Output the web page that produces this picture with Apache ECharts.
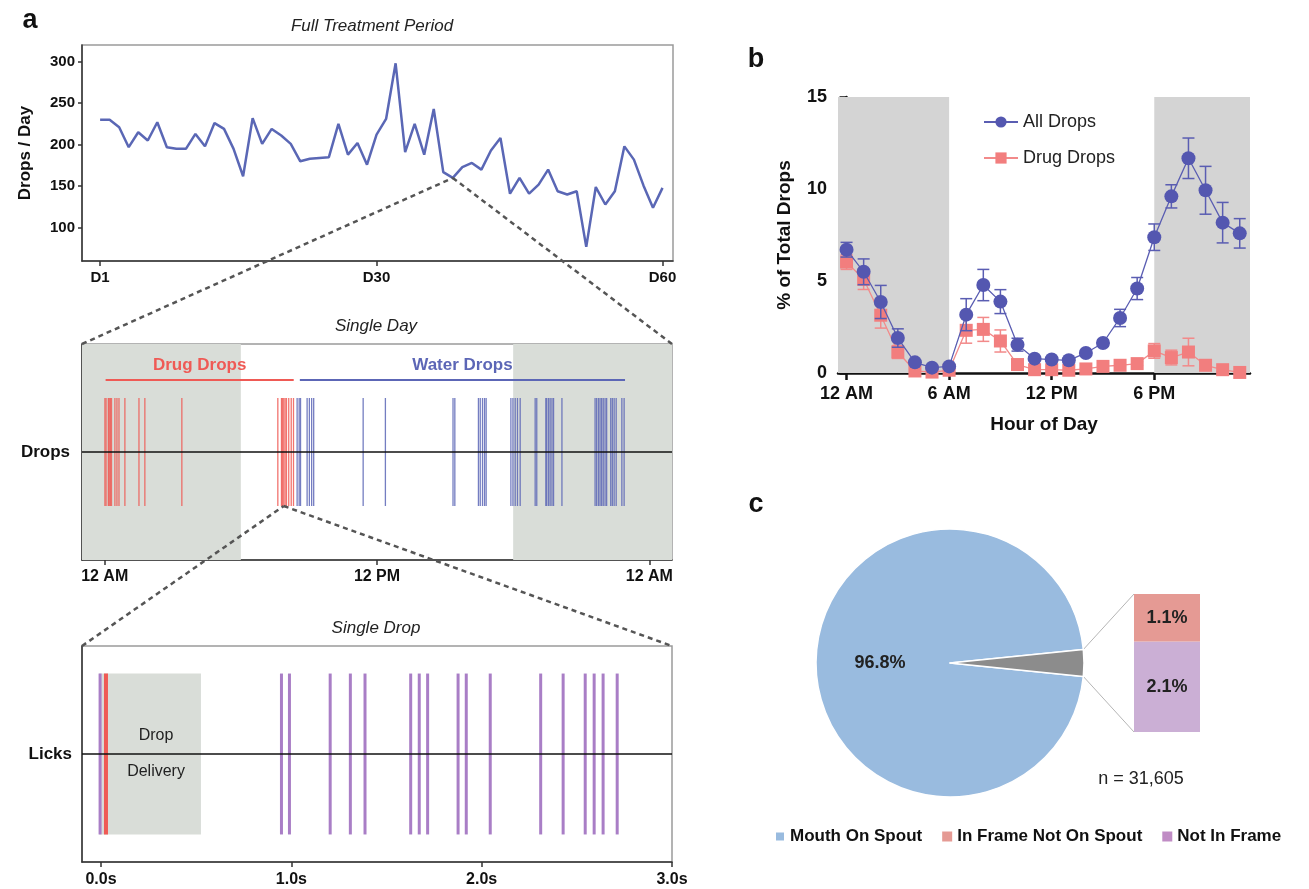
<!DOCTYPE html>
<html>
<head>
<meta charset="utf-8">
<title>Drops figure</title>
<script src="https://cdn.jsdelivr.net/npm/echarts@6.0.0/dist/echarts.min.js"></script>
<style>
  html, body { margin: 0; padding: 0; background: #fff; }
  #box { width: 1309px; height: 889px; }
</style>
</head>
<body>
<div id="box"></div>
<script>
// panel a, top: drops per day over 60 days
var dailyDrops = [230, 230, 221, 197, 215, 205, 227, 197, 195, 195,
                  213, 198, 226, 219, 195, 162, 232, 201, 219, 211,
                  201, 180, 183, 184, 185, 225, 188, 202, 176, 212,
                  231, 298, 191, 225, 188, 243, 167, 160, 173, 178,
                  170, 193, 208, 141, 160, 141, 152, 170, 144, 140,
                  144, 77, 149, 128, 144, 198, 182, 151, 124, 148]
var dayTicks = [1, 30, 60]

// panel a, middle: drop times in hours for a single day
var drugTimes = [0.01, 0.06, 0.16, 0.2, 0.25, 0.3, 0.45, 0.54, 0.63, 0.89, 1.51, 1.77, 3.40,
                 7.63, 7.79, 7.83, 7.89, 7.95, 8.01, 8.11, 8.22, 8.32]
var waterTimes = [8.48, 8.57, 8.63, 8.92, 9.02, 9.12, 9.21, 11.39, 12.37, 15.35, 15.43,
                  16.47, 16.55, 16.65, 16.74, 16.81, 17.9, 17.99, 18.09, 18.19, 18.31,
                  18.97, 19.04, 19.44, 19.48, 19.56, 19.63, 19.71, 19.78, 20.15,
                  21.61, 21.68, 21.76, 21.83, 21.90, 21.97, 22.05, 22.12,
                  22.3, 22.37, 22.45, 22.54, 22.79, 22.89]
var dayHourTicks = [0, 12, 24]
var dayHourLabels = ['12 AM', '12 PM', '12 AM']

// panel a, bottom: licks around one drop (seconds)
var lickTimes = [-0.005, 0.948, 0.99, 1.204, 1.31, 1.387, 1.627, 1.672, 1.716, 1.876,
                 1.919, 2.045, 2.31, 2.428, 2.544, 2.591, 2.638, 2.712]
var dropTimes = [0.026]
var secTicks = [0, 1, 2, 3]

// panel b: % of total drops by hour
var hours = [0, 1, 2, 3, 4, 5, 6, 7, 8, 9, 10, 11, 12, 13, 14, 15, 16, 17, 18, 19, 20, 21, 22, 23]
var allDrops = [6.7, 5.5, 3.86, 1.9, 0.58, 0.29, 0.36, 3.17, 4.78, 3.88, 1.54, 0.78,
                0.73, 0.69, 1.09, 1.63, 2.99, 4.59, 7.38, 9.6, 11.67, 9.93, 8.17, 7.59]
var allErr = [0.4, 0.7, 0.9, 0.5, 0.1, 0.1, 0.1, 0.87, 0.85, 0.65, 0.35, 0.1,
              0.1, 0.1, 0.1, 0.15, 0.47, 0.6, 0.72, 0.63, 1.1, 1.3, 1.1, 0.8]
var drugDrops = [6.03, 5.09, 3.14, 1.14, 0.11, 0.05, 0.15, 2.32, 2.37, 1.74, 0.46, 0.18,
                 0.18, 0.15, 0.22, 0.36, 0.42, 0.51, 1.2, 0.84, 1.14, 0.42, 0.18, 0.03]
var drugErr = [0.4, 0.55, 0.7, 0.35, 0.1, 0.05, 0.1, 0.7, 0.65, 0.6, 0.1, 0.05,
               0.05, 0.05, 0.05, 0.05, 0.05, 0.1, 0.4, 0.4, 0.75, 0.2, 0.1, 0.05]
var hourTicks = [0, 6, 12, 18]
var hourLabels = ['12 AM', '6 AM', '12 PM', '6 PM']

// panel c
var pieNames = ['Mouth On Spout', 'Other']
var pieValues = [96.8, 3.2]
var partNames = ['In Frame Not On Spout', 'Not In Frame']
var partValues = [1.1, 2.1]
var sampleSize = '31,605'

var FONT = "'Liberation Sans', Arial, sans-serif"
var PIE_C = [950, 663], PIE_R = 134
var BOX = { left: 1134, top: 594, width: 66, height: 138 }

var myChart = echarts.init(document.getElementById('box'))

function tickLines(half, color, width, opacity) {
    return function (params, api) {
        var t = api.value(0)
        var a = api.coord([t, half])
        var b = api.coord([t, -half])
        return {
            type: 'line',
            shape: { x1: a[0], y1: a[1], x2: b[0], y2: b[1] },
            style: { stroke: color, lineWidth: width, opacity: opacity }
        }
    }
}

function errBars(color, cap) {
    return function (params, api) {
        var x = api.value(0)
        var lo = api.coord([x, api.value(1)])
        var hi = api.coord([x, api.value(2)])
        var st = { stroke: color, lineWidth: 1.5 }
        return {
            type: 'group',
            children: [
                { type: 'line', shape: { x1: lo[0], y1: lo[1], x2: hi[0], y2: hi[1] }, style: st },
                { type: 'line', shape: { x1: lo[0] - cap, y1: lo[1], x2: lo[0] + cap, y2: lo[1] }, style: st },
                { type: 'line', shape: { x1: hi[0] - cap, y1: hi[1], x2: hi[0] + cap, y2: hi[1] }, style: st }
            ]
        }
    }
}

function darkAxis(w) {
    return { show: true, onZero: false, lineStyle: { color: '#333', width: w } }
}

var boldLabel = { fontFamily: FONT, fontWeight: 'bold', color: '#111' }
var gridBorder = { show: true, borderColor: '#9a9a9a', borderWidth: 1.5 }

var option = {
    animation: false,
    textStyle: { fontFamily: FONT },
    grid: [
        Object.assign({ left: 82, top: 45, width: 591, height: 216 }, gridBorder),
        Object.assign({ left: 82, top: 344, width: 590, height: 216 }, gridBorder),
        Object.assign({ left: 82, top: 646, width: 590, height: 216 }, gridBorder),
        { left: 838, top: 97, width: 412, height: 276 },
        BOX
    ],
    xAxis: [
        {
            gridIndex: 0, type: 'value', min: -0.9, max: 61.1,
            axisLine: darkAxis(1.5),
            axisTick: { customValues: dayTicks, length: 5, lineStyle: { color: '#333', width: 1.5 } },
            axisLabel: Object.assign({ customValues: dayTicks, fontSize: 15, margin: 9, formatter: function (v) { return 'D' + v } }, boldLabel),
            splitLine: { show: false }
        },
        {
            gridIndex: 1, type: 'value', min: -1, max: 25,
            axisLine: darkAxis(1.5),
            axisTick: { customValues: dayHourTicks, length: 5, lineStyle: { color: '#333', width: 1.5 } },
            axisLabel: Object.assign({
                customValues: dayHourTicks, fontSize: 16, margin: 9,
                formatter: function (v) { return dayHourLabels[dayHourTicks.indexOf(v)] }
            }, boldLabel),
            splitLine: { show: false }
        },
        {
            gridIndex: 2, type: 'value', min: -0.1, max: 3.0,
            axisLine: darkAxis(1.5),
            axisTick: { customValues: secTicks, length: 5, lineStyle: { color: '#333', width: 1.5 } },
            axisLabel: Object.assign({
                customValues: secTicks, fontSize: 16, margin: 10,
                formatter: function (v) { return v.toFixed(1) + 's' }
            }, boldLabel),
            splitLine: { show: false }
        },
        {
            gridIndex: 3, type: 'value', min: -0.5, max: 23.6,
            axisLine: { show: true, onZero: false, lineStyle: { color: '#111', width: 2.5 } },
            axisTick: { customValues: hourTicks, length: 7, lineStyle: { color: '#111', width: 2.5 } },
            axisLabel: Object.assign({
                customValues: hourTicks, fontSize: 18, margin: 12,
                formatter: function (v) { return hourLabels[hourTicks.indexOf(v)] }
            }, boldLabel),
            splitLine: { show: false },
            name: 'Hour of Day', nameLocation: 'middle', nameGap: 42,
            nameTextStyle: Object.assign({ fontSize: 19 }, boldLabel)
        },
        { gridIndex: 4, type: 'category', data: ['n'], show: false }
    ],
    yAxis: [
        {
            gridIndex: 0, type: 'value', min: 60, max: 320,
            axisLine: darkAxis(1.5),
            axisTick: { customValues: [100, 150, 200, 250, 300], length: 4, lineStyle: { color: '#333', width: 1.5 } },
            axisLabel: Object.assign({ customValues: [100, 150, 200, 250, 300], fontSize: 15, margin: 7 }, boldLabel),
            splitLine: { show: false },
            name: 'Drops / Day', nameLocation: 'middle', nameGap: 48,
            nameTextStyle: Object.assign({ fontSize: 17 }, boldLabel)
        },
        {
            gridIndex: 1, type: 'value', min: -1, max: 1,
            axisLine: darkAxis(1.5),
            axisTick: { show: false },
            axisLabel: Object.assign({ customValues: [0], fontSize: 17, margin: 12, formatter: function () { return 'Drops' } }, boldLabel),
            splitLine: { show: false }
        },
        {
            gridIndex: 2, type: 'value', min: -1, max: 1,
            axisLine: darkAxis(1.5),
            axisTick: { show: false },
            axisLabel: Object.assign({ customValues: [0], fontSize: 17, margin: 10, formatter: function () { return 'Licks' } }, boldLabel),
            splitLine: { show: false }
        },
        {
            gridIndex: 3, type: 'value', min: 0, max: 15, interval: 5,
            axisLine: { show: true, lineStyle: { color: '#111', width: 2.5 } },
            axisTick: { show: true, length: 7, lineStyle: { color: '#111', width: 2.5 } },
            axisLabel: Object.assign({ fontSize: 18, margin: 11 }, boldLabel),
            splitLine: { show: false },
            name: '% of Total Drops', nameLocation: 'middle', nameGap: 44,
            nameTextStyle: Object.assign({ fontSize: 19 }, boldLabel)
        },
        { gridIndex: 4, type: 'value', min: 0, max: 3.2, show: false }
    ],
    legend: [
        {
            data: ['All Drops', 'Drug Drops'],
            orient: 'vertical', left: 978, top: 108,
            itemWidth: 34, itemHeight: 14, itemGap: 18,
            textStyle: { fontFamily: FONT, fontSize: 18, color: '#222' },
            selectedMode: false
        },
        {
            data: [
                { name: 'Mouth On Spout' },
                { name: 'In Frame Not On Spout' },
                { name: 'Not In Frame', itemStyle: { color: '#c08cc5' } }
            ],
            left: 769, top: 823, icon: 'rect',
            itemWidth: 10, itemHeight: 10, itemGap: 20,
            textStyle: { fontFamily: FONT, fontSize: 17, fontWeight: 'bold', color: '#111' },
            selectedMode: false
        }
    ],
    series: [
        {
            type: 'line', name: 'daily', xAxisIndex: 0, yAxisIndex: 0,
            data: dailyDrops.map(function (v, i) { return [i + 1, v] }),
            symbol: 'none', lineStyle: { color: '#5a67b5', width: 2.5 }, silent: true
        },
        {
            type: 'custom', name: 'drugTicks', xAxisIndex: 1, yAxisIndex: 1,
            data: drugTimes.map(function (t) { return [t, 0] }),
            encode: { x: 0, y: 1 },
            renderItem: tickLines(0.5, '#ef5a55', 1.3, 0.85), silent: true,
            markArea: {
                silent: true,
                itemStyle: { color: '#d9ddd8' },
                data: [[{ xAxis: -1 }, { xAxis: 6 }], [{ xAxis: 18 }, { xAxis: 25 }]]
            },
            markLine: {
                silent: true, symbol: ['none', 'none'],
                data: [
                    { yAxis: 0, lineStyle: { color: '#111', width: 1.5, type: 'solid' }, label: { show: false } },
                    [
                        {
                            coord: [0.04, 0.67], lineStyle: { color: '#ef5a55', width: 2, type: 'solid' },
                            label: { show: true, position: 'insideMiddleTop', distance: 6, formatter: 'Drug Drops', fontFamily: FONT, fontWeight: 'bold', fontSize: 17, color: '#ef5a55' }
                        },
                        { coord: [8.33, 0.67] }
                    ],
                    [
                        {
                            coord: [8.6, 0.67], lineStyle: { color: '#5c66b6', width: 2, type: 'solid' },
                            label: { show: true, position: 'insideMiddleTop', distance: 6, formatter: 'Water Drops', fontFamily: FONT, fontWeight: 'bold', fontSize: 17, color: '#5c66b6' }
                        },
                        { coord: [22.93, 0.67] }
                    ]
                ]
            }
        },
        {
            type: 'custom', name: 'waterTicks', xAxisIndex: 1, yAxisIndex: 1,
            data: waterTimes.map(function (t) { return [t, 0] }),
            encode: { x: 0, y: 1 },
            renderItem: tickLines(0.5, '#5c66b6', 1.3, 0.85), silent: true
        },
        {
            type: 'custom', name: 'licks', xAxisIndex: 2, yAxisIndex: 2,
            data: lickTimes.map(function (t) { return [t, 0] }),
            encode: { x: 0, y: 1 },
            renderItem: tickLines(0.745, '#a97ec6', 3, 1), silent: true, z: 3,
            markArea: {
                silent: true,
                itemStyle: { color: '#d9ddd8' },
                label: {
                    show: true, position: 'inside', formatter: 'Drop\nDelivery',
                    lineHeight: 36, fontSize: 16, fontFamily: FONT, color: '#222', offset: [6, 0]
                },
                data: [[{ coord: [-0.01, -0.745] }, { coord: [0.525, 0.745] }]]
            },
            markLine: {
                silent: true, symbol: ['none', 'none'],
                data: [{ yAxis: 0, lineStyle: { color: '#111', width: 1.5, type: 'solid' }, label: { show: false } }]
            }
        },
        {
            type: 'custom', name: 'dropMark', xAxisIndex: 2, yAxisIndex: 2,
            data: dropTimes.map(function (t) { return [t, 0] }),
            encode: { x: 0, y: 1 },
            renderItem: tickLines(0.745, '#ef5a55', 4, 1), silent: true, z: 4
        },
        {
            type: 'custom', name: 'drugErr', xAxisIndex: 3, yAxisIndex: 3,
            data: hours.map(function (h, i) { return [h, drugDrops[i] - drugErr[i], drugDrops[i] + drugErr[i]] }),
            encode: { x: 0, y: [1, 2] },
            renderItem: errBars('#f28a8a', 6), silent: true, z: 2,
            markArea: {
                silent: true,
                itemStyle: { color: '#d4d4d4' },
                data: [[{ xAxis: -0.5 }, { xAxis: 6 }], [{ xAxis: 18 }, { xAxis: 23.6 }]]
            }
        },
        {
            type: 'line', name: 'Drug Drops', xAxisIndex: 3, yAxisIndex: 3,
            data: hours.map(function (h, i) { return [h, drugDrops[i]] }),
            symbol: 'rect', symbolSize: 13,
            itemStyle: { color: '#f27e7e' },
            lineStyle: { color: '#f28a8a', width: 1.3 }, z: 3
        },
        {
            type: 'custom', name: 'allErr', xAxisIndex: 3, yAxisIndex: 3,
            data: hours.map(function (h, i) { return [h, allDrops[i] - allErr[i], allDrops[i] + allErr[i]] }),
            encode: { x: 0, y: [1, 2] },
            renderItem: errBars('#5a5db2', 6), silent: true, z: 4
        },
        {
            type: 'line', name: 'All Drops', xAxisIndex: 3, yAxisIndex: 3,
            data: hours.map(function (h, i) { return [h, allDrops[i]] }),
            symbol: 'circle', symbolSize: 14,
            itemStyle: { color: '#5457b0' },
            lineStyle: { color: '#5a5db2', width: 1.3 }, z: 5
        },
        {
            type: 'pie', name: 'spout',
            center: PIE_C, radius: PIE_R,
            // grey slice centred on 3 o'clock
            startAngle: -pieValues[1] / 100 * 180,
            clockwise: true,
            silent: true,
            itemStyle: { borderColor: '#fff', borderWidth: 1.5 },
            label: { show: false },
            labelLine: { show: false },
            data: [
                {
                    name: pieNames[0], value: pieValues[0], itemStyle: { color: '#99bbdf' },
                    label: { show: true, position: 'inside', formatter: pieValues[0] + '%', fontFamily: FONT, fontWeight: 'bold', fontSize: 18, color: '#222' }
                },
                { name: pieNames[1], value: pieValues[1], itemStyle: { color: '#8c8c8c' } }
            ]
        },
        {
            type: 'bar', name: partNames[1], xAxisIndex: 4, yAxisIndex: 4, stack: 'part',
            data: [partValues[1]], barWidth: '100%', silent: true,
            itemStyle: { color: '#cbafd5' },
            label: { show: true, position: 'inside', formatter: partValues[1] + '%', fontFamily: FONT, fontWeight: 'bold', fontSize: 18, color: '#222' }
        },
        {
            type: 'bar', name: partNames[0], xAxisIndex: 4, yAxisIndex: 4, stack: 'part',
            data: [partValues[0]], barWidth: '100%', silent: true,
            itemStyle: { color: '#e59a94' },
            label: { show: true, position: 'inside', formatter: partValues[0] + '%', fontFamily: FONT, fontWeight: 'bold', fontSize: 18, color: '#222' }
        }
    ]
}

myChart.setOption(option)

// dashed zoom guides and loose texts
var px = function (g, v) { return myChart.convertToPixel({ gridIndex: g }, v) }
var zoomDay = 38
var zoomHour = 7.89
var p1 = px(0, [zoomDay, dailyDrops[zoomDay - 1]])
var dTL = px(1, [-1, 1]), dTR = px(1, [25, 1])
var p2 = px(1, [zoomHour, -0.5])
var sTL = px(2, [-0.1, 1]), sTR = px(2, [3.0, 1])
var dash = { stroke: '#555', lineWidth: 2.5, lineDash: [5, 4] }
var half = pieValues[1] / 100 * Math.PI
var edgeX = PIE_C[0] + PIE_R * Math.cos(half)
var link = { stroke: '#b5b5b5', lineWidth: 1 }

function label(text, x, y, font, extra) {
    return {
        type: 'text', z: 10, silent: true,
        style: Object.assign({ text: text, x: x, y: y, font: font, fill: '#111', align: 'center', verticalAlign: 'middle' }, extra || {})
    }
}

myChart.setOption({
    graphic: {
        elements: [
            { type: 'line', z: 9, silent: true, shape: { x1: dTL[0], y1: dTL[1], x2: p1[0], y2: p1[1] }, style: dash },
            { type: 'line', z: 9, silent: true, shape: { x1: p1[0], y1: p1[1], x2: dTR[0], y2: dTR[1] }, style: dash },
            { type: 'line', z: 9, silent: true, shape: { x1: sTL[0], y1: sTL[1], x2: p2[0], y2: p2[1] }, style: dash },
            { type: 'line', z: 9, silent: true, shape: { x1: p2[0], y1: p2[1], x2: sTR[0], y2: sTR[1] }, style: dash },
            { type: 'line', silent: true, shape: { x1: edgeX, y1: PIE_C[1] - PIE_R * Math.sin(half), x2: BOX.left, y2: BOX.top }, style: link },
            { type: 'line', silent: true, shape: { x1: edgeX, y1: PIE_C[1] + PIE_R * Math.sin(half), x2: BOX.left, y2: BOX.top + BOX.height }, style: link },
            label('Full Treatment Period', 372, 26, 'italic 17px ' + FONT, { fill: '#222' }),
            label('Single Day', 376, 326, 'italic 17px ' + FONT, { fill: '#222' }),
            label('Single Drop', 376, 628, 'italic 17px ' + FONT, { fill: '#222' }),
            label('a', 30, 21, 'bold 27px ' + FONT),
            label('b', 756, 60, 'bold 27px ' + FONT),
            label('c', 756, 505, 'bold 27px ' + FONT),
            label('n = ' + sampleSize, 1141, 779, '18px ' + FONT, { fill: '#222' })
        ]
    }
})

window.onresize = function () {
    myChart.resize()
}
</script>
</body>
</html>
